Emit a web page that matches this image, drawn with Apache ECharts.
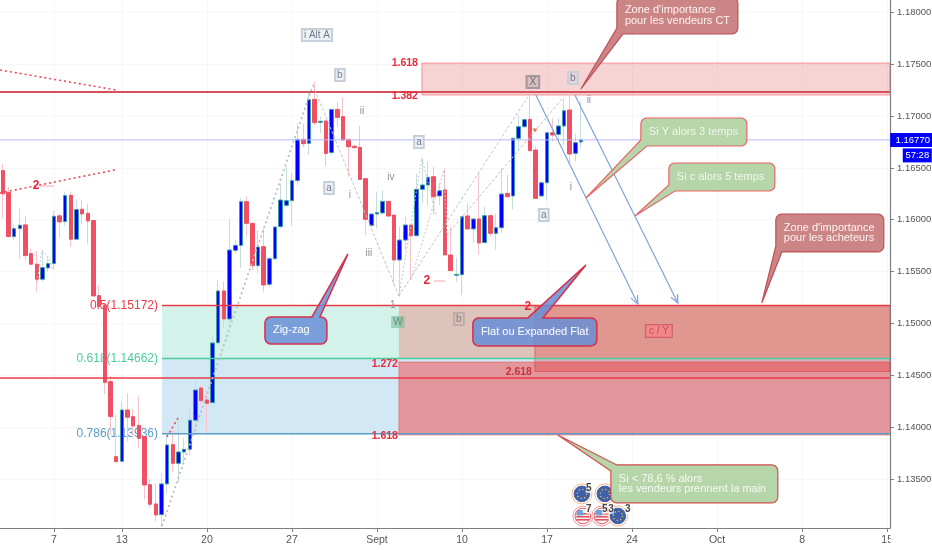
<!DOCTYPE html>
<html><head><meta charset="utf-8">
<style>html,body{margin:0;padding:0;background:#fff}#c{width:932px;height:550px}</style>
<script src="https://cdn.jsdelivr.net/npm/echarts@6/dist/echarts.min.js"></script>
</head><body><div id="c"></div>
<script>
const opens=[1.16474,1.16262,1.15837,1.15914,1.15950,1.15673,1.15571,1.15426,1.15535,1.15577,
1.16037,1.15982,1.16236,1.15812,1.16101,1.16062,1.15992,1.15268,1.15178,1.14438,
1.13715,1.13670,1.14165,1.14101,1.14017,1.13908,1.13445,1.13259,1.13156,1.13452,
1.13831,1.13651,1.13760,1.13786,1.14066,1.14377,1.14262,1.14236,1.14814,1.15313,
1.15043,1.15705,1.15753,1.16174,1.15965,1.15557,1.15740,1.15377,1.15624,1.15933,
1.16139,1.16184,1.16377,1.16775,1.16736,1.17161,1.16939,1.16952,1.16647,1.17064,
1.16994,1.16775,1.16708,1.16698,1.16396,1.15946,1.16055,1.16065,1.16177,1.16045,
1.15612,1.15804,1.15949,1.15846,1.16293,1.16335,1.16415,1.16229,1.16287,1.15660,
1.15464,1.15470,1.16036,1.15911,1.16007,1.15779,1.16039,1.15869,1.15923,1.16254,
1.16229,1.16785,1.16897,1.16968,1.16672,1.16229,1.16357,1.16839,1.16823,1.16904,
1.17058,1.16640,1.16750];
const closes=[1.16249,1.15837,1.15914,1.15947,1.15654,1.15571,1.15426,1.15538,1.15577,1.16033,
1.15979,1.16233,1.15812,1.16098,1.16056,1.15988,1.15265,1.15162,1.14432,1.14101,
1.13667,1.14165,1.14095,1.14011,1.13892,1.13442,1.13256,1.13153,1.13452,1.13828,
1.13651,1.13760,1.13786,1.14066,1.14358,1.14255,1.14229,1.14811,1.15313,1.15043,
1.15708,1.15753,1.16174,1.15965,1.15557,1.15737,1.15371,1.15624,1.15930,1.16190,
1.16184,1.16377,1.16775,1.16733,1.17158,1.16936,1.16949,1.16640,1.17064,1.16987,
1.16769,1.16704,1.16695,1.16389,1.16004,1.16055,1.16068,1.16177,1.16036,1.15612,
1.15804,1.15949,1.15846,1.16293,1.16335,1.16409,1.16222,1.16280,1.15660,1.15509,
1.15473,1.16029,1.15911,1.16007,1.15776,1.16039,1.15869,1.15923,1.16248,1.16222,
1.16785,1.16897,1.16965,1.16666,1.16206,1.16357,1.16839,1.16817,1.16904,1.17051,
1.16634,1.16743,1.16770];
const highs=[1.16538,1.16319,1.15950,1.16111,1.16037,1.15718,1.15699,1.15709,1.15638,1.16085,
1.16062,1.16271,1.16271,1.16197,1.16191,1.16152,1.15992,1.15371,1.15178,1.14493,
1.14117,1.14252,1.14326,1.14175,1.14294,1.13908,1.13500,1.13458,1.13555,1.13940,
1.13972,1.14085,1.13892,1.14191,1.14454,1.14403,1.14319,1.14872,1.15419,1.15403,
1.16007,1.15804,1.16206,1.16229,1.15965,1.15901,1.15917,1.15644,1.15933,1.16351,
1.16512,1.16447,1.16929,1.16929,1.17219,1.17331,1.16994,1.16961,1.17064,1.17138,
1.17180,1.16775,1.16720,1.16904,1.16399,1.16062,1.16270,1.16280,1.16177,1.16045,
1.15933,1.16029,1.15949,1.16447,1.16592,1.16560,1.16512,1.16351,1.16495,1.15933,
1.15637,1.16029,1.16158,1.16013,1.16447,1.16126,1.16039,1.16055,1.16495,1.16431,
1.16785,1.17010,1.16977,1.17203,1.16711,1.16367,1.16839,1.16978,1.16978,1.17170,
1.17235,1.16826,1.17138];
const lows=[1.16014,1.15831,1.15805,1.15619,1.15612,1.15564,1.15307,1.15403,1.15500,1.15516,
1.15828,1.15940,1.15735,1.15805,1.15959,1.15767,1.15259,1.15156,1.14319,1.13924,
1.13657,1.13667,1.13860,1.13908,1.13796,1.13304,1.13217,1.13089,1.13040,1.13362,
1.13571,1.13465,1.13651,1.13731,1.13924,1.14223,1.13956,1.14229,1.14800,1.14960,
1.14966,1.15676,1.15531,1.15837,1.15515,1.15483,1.15306,1.15354,1.15612,1.15917,
1.16126,1.15943,1.16335,1.16698,1.16624,1.16913,1.16833,1.16518,1.16624,1.16897,
1.16762,1.16415,1.16688,1.16383,1.15853,1.15933,1.15917,1.16055,1.16029,1.15371,
1.15258,1.15708,1.15419,1.15837,1.16158,1.16142,1.16055,1.16142,1.15660,1.15509,
1.15403,1.15274,1.15911,1.15779,1.15660,1.15772,1.15837,1.15708,1.15875,1.16222,
1.16100,1.16679,1.16881,1.16666,1.16206,1.16222,1.16184,1.16753,1.16736,1.16720,
1.16528,1.16560,1.16698];

const xTickSlots=[9,21,36,51,66,81,96,111,126,141,156];
const xTickLabels=['7','13','20','27','Sept','10','17','24','Oct','8','15'];
const yTicks=[1.135,1.14,1.145,1.15,1.155,1.16,1.165,1.17,1.175,1.18];
const slotCount=157, xStart=-0.5, xEnd=156.5, yMin=1.13027, yMax=1.18119;
const lastPrice=1.16770, countdown='57:28';
const categories=Array.from({length:slotCount},(_,i)=>String(i));

const zones=[
 [73.93,1.17511,156.46,1.17203,'band'],
 [28.07,1.15172,156.46,1.14662,'green'],
 [28.07,1.14662,156.46,1.13936,'blue'],
 [69.87,1.15172,156.46,1.14667,'extA'],
 [69.87,1.14628,156.46,1.13924,'extB'],
 [93.86,1.15172,156.46,1.14537,'extC']
];
const levelLabels=[
 [27.37,1.15172,'0.5(1.15172)','fibRed'],
 [27.37,1.14662,'0.618(1.14662)','fibGreen'],
 [27.37,1.13936,'0.786(1.13936)','fibBlue']
];
const levels=[
 [-0.5,156.46,1.17232,'topRed'],
 [-0.5,156.46,1.16770,'last'],
 [28.07,156.46,1.15172,'red'],
 [28.07,156.46,1.14662,'fibGreen'],
 [-0.5,156.46,1.14473,'red'],
 [28.07,156.46,1.13936,'fibBlue']
];
const trends=[
 ['redDot',-0.5,1.17444,19.96,1.17251],
 ['redDot',-0.5,1.16258,19.78,1.16480],
 ['redDot',28.95,1.13905,30.89,1.14088],
 ['grayDot',28.07,1.13047,54.70,1.17299],
 ['grayDash',54.70,1.17299,69.87,1.15265],
 ['grayDash',69.87,1.15265,92.62,1.17184],
 ['grayDot2',69.87,1.15265,73.93,1.16595,76.4,1.16046],
 ['grayDot2',72.0,1.15419,77.81,1.16480,78.34,1.15853],
 ['grayDash',78.34,1.15853,98.8,1.17174],
 ['grayDot2',6.03,1.15400,6.91,1.15708,7.97,1.15641,8.85,1.15515],
 ['palered',6.56,1.16325,9.03,1.16325],
 ['palered',76.04,1.15409,78.0,1.15409]
];
const arrows=[[94.03,1.17203,112.02,1.15188],[100.91,1.17203,119.08,1.15197]];
const tags=[
 [55.41,1.17782,'i Alt A','box'],[59.46,1.17396,'b','box'],[57.53,1.16306,'a','box'],
 [73.4,1.16750,'a','box'],[93.5,1.17328,'X','boxDark'],[100.56,1.17367,'b','box'],
 [95.44,1.16046,'a','box'],[69.69,1.15014,'W','boxGreen'],[80.45,1.15043,'b','boxBrown'],
 [115.73,1.14927,'c / Y','boxRed'],
 [63.35,1.17049,'ii','plain'],[61.23,1.16239,'i','plain'],[68.46,1.16412,'iv','plain'],
 [64.58,1.15679,'iii','plain'],[68.81,1.15178,'1','plain'],[103.38,1.17155,'ii','plain'],
 [100.2,1.16316,'i','plain'],
 [5.85,1.16325,'2','red'],[74.81,1.15409,'2','red'],[92.62,1.15158,'2','red']
];
const ratioLabels=[
 [73.22,1.17511,'1.618','ratio'],[73.22,1.17193,'1.382','ratio'],
 [69.7,1.14609,'1.272','ratio'],[69.7,1.13915,'1.618','ratio'],[93.33,1.14532,'2.618','ratioDark']
];
const callouts=[
 [108.32,1.18148,129.66,1.17791,101.97,1.17261,'bl',0,0,'rose',"Zone d'importance\npour les vendeurs CT"],
 [112.55,1.16981,131.25,1.16711,102.85,1.16210,'bl',0,0,'sage','Si Y alors 3 temps'],
 [117.49,1.16547,136.19,1.16277,111.49,1.16036,'bl',0,0,'sage','Si c alors 5 temps'],
 [136.36,1.16055,155.41,1.15689,133.89,1.15197,'bl',0,0,'rose',"Zone d'importance\npour les acheteurs"],
 [46.24,1.15062,57.17,1.14802,60.88,1.15670,'top',54.53,55.94,'sky','Zig-zag'],
 [82.92,1.15053,104.79,1.14783,102.85,1.15564,'top',92.62,95.27,'sky','Flat ou Expanded Flat'],
 [107.26,1.13635,136.71,1.13269,97.91,1.13924,'tl',0,0,'sage2',"Si < 78,6 % alors\nles vendeurs prennent la main"]
];
const icons=[[102.15,1.13356,'eu'],[106.2,1.13356,'eu'],[102.32,1.13143,'us'],[105.67,1.13143,'us'],[108.5,1.13143,'eu']];
const iconCounts=[[103.38,1.13413,'5'],[103.38,1.13211,'7'],[106.2,1.13211,'5'],[107.3,1.13211,'3'],[110.26,1.13211,'3']];
const signalMarks=[[93.86,1.16860]];

const FONT='"Liberation Sans",Arial,sans-serif';
const zoneStyle={
 band:{fill:'rgba(226,120,120,.32)',stroke:'rgba(240,120,120,.75)'},
 green:{fill:'#d3f3ea',stroke:null},
 blue:{fill:'#d3e8f5',stroke:null},
 extA:{fill:'rgba(250,86,77,.3)',stroke:null},
 extB:{fill:'rgba(243,66,67,.5)',stroke:'rgba(235,90,100,.6)'},
 extC:{fill:'rgba(227,20,16,.25)',stroke:'rgba(215,60,70,.55)'}
};
const levelStyle={
 topRed:{stroke:'#d4505a',lineWidth:2},last:{stroke:'#b7b7fb',lineWidth:1},
 red:{stroke:'#ea3a48',lineWidth:1.5},fibGreen:{stroke:'#4ccb9e',lineWidth:1.5},fibBlue:{stroke:'#5a9cc8',lineWidth:1.5}
};
const trendStyle={
 redDot:{stroke:'#ee4a5a',lineWidth:1.6,lineDash:[2,3]},
 grayDot:{stroke:'#bdbdbd',lineWidth:1.8,lineDash:[2,3]},
 grayDot2:{stroke:'#c6c6c6',lineWidth:1,lineDash:[2,2]},
 grayDash:{stroke:'#c2c2c2',lineWidth:1,lineDash:[3,2]},
 palered:{stroke:'#f6a8ae',lineWidth:1}
};
const textStyle={
 fibRed:{fill:'#ee3a4a',font:'12px '+FONT,a:'right'},
 fibGreen:{fill:'#4ccb9e',font:'12px '+FONT,a:'right'},
 fibBlue:{fill:'#5a9cc8',font:'12px '+FONT,a:'right'},
 ratio:{fill:'#ea2a3a',font:'bold 10.5px '+FONT,a:'right'},
 ratioDark:{fill:'#c8323e',font:'bold 10.5px '+FONT,a:'right'},
 red:{fill:'#ee2233',font:'bold 12px '+FONT,a:'center'},
 plain:{fill:'#8a8f98',font:'10px '+FONT,a:'center'},
 box:{fill:'#6f7d8e',font:'10px '+FONT,a:'center',backgroundColor:'rgba(205,214,228,.35)',borderColor:'#c6cdd8',borderWidth:1,padding:[1,2,1,2]},
 boxDark:{fill:'#6b6b70',font:'10px '+FONT,a:'center',backgroundColor:'rgba(150,140,150,.3)',borderColor:'#a89aa0',borderWidth:1,padding:[1,3,1,3]},
 boxGreen:{fill:'#6f8a80',font:'10px '+FONT,a:'center',backgroundColor:'rgba(110,190,150,.55)',padding:[1,2,1,2]},
 boxBrown:{fill:'#8d7a78',font:'10px '+FONT,a:'center',backgroundColor:'rgba(205,190,185,.4)',borderColor:'#c0a8a4',borderWidth:1,padding:[1,2,1,2]},
 boxRed:{fill:'#b8505c',font:'10px '+FONT,a:'center',backgroundColor:'rgba(250,130,135,.75)',borderColor:'#c9646e',borderWidth:1,padding:[1,3,1,3]}
};
const calloutStyle={
 rose:{fill:'#cc8585',stroke:'#bf4f58',text:'#fdf3f3'},
 sage:{fill:'#b6d5a8',stroke:'#ea6468',text:'#f1f7ec'},
 sage2:{fill:'#b6d5a8',stroke:'#cf4f52',text:'#f6faf2'},
 sky:{fill:'rgba(104,142,214,.85)',stroke:'#d6304a',text:'#ffffff'}
};

const mk=(arr,z,draw,extra)=>Object.assign({
 type:'custom',xAxisIndex:1,yAxisIndex:0,z,silent:true,animation:false,clip:false,
 data:arr.map(()=>[0,1.15]),encode:{x:0,y:1},
 renderItem:(params,api)=>draw(arr[params.dataIndex],api)
},extra||{});
const txt=(x,y,t,st)=>{
 const s={text:t,x,y,fill:st.fill,font:st.font,align:st.a,verticalAlign:'middle'};
 ['backgroundColor','borderColor','borderWidth','padding'].forEach(k=>{if(st[k]!=null)s[k]=st[k];});
 return {type:'text',style:s,z2:20};
};
function arc(cx,cy,r,a0,a1){const o=[];for(let k=0;k<=5;k++){const a=a0+(a1-a0)*k/5;o.push([cx+r*Math.cos(a),cy+r*Math.sin(a)]);}return o;}

function drawCallout(c,api){
 const [sl,pt,sr,pb,ts,tp,where,b0,b1,kind,label]=c;
 const lt=api.coord([sl,pt]),rb=api.coord([sr,pb]),tip=api.coord([ts,tp]);
 const l=lt[0],t=lt[1],r=rb[0],b=rb[1],R=6,P=Math.PI,pts=[];
 const TL=arc(l+R,t+R,R,P,1.5*P),TR=arc(r-R,t+R,R,1.5*P,2*P),BR=arc(r-R,b-R,R,0,.5*P),BL=arc(l+R,b-R,R,.5*P,P);
 if(where==='top'){
  const x0=api.coord([b0,pt])[0],x1=api.coord([b1,pt])[0];
  pts.push(...TL,[x0,t],tip,[x1,t],...TR,...BR,...BL);
 }else if(where==='bl'){
  pts.push(...TL,...TR,...BR,[l+R,b],tip,[l,b-R]);
 }else{
  pts.push([l,t+R],tip,[l+R,t],...TR,...BR,...BL);
 }
 const st=calloutStyle[kind];
 return {type:'group',children:[
  {type:'polygon',shape:{points:pts},style:{fill:st.fill,stroke:st.stroke,lineWidth:kind==='sky'?1.5:1.2}},
  {type:'text',style:{text:label,x:l+8,y:(t+b)/2,fill:st.text,font:'11px '+FONT,align:'left',verticalAlign:'middle',lineHeight:10.5},z2:5}
 ]};
}
function drawIcon(c,api){
 const [s,p,flag]=c,q=api.coord([s,p]),cx=q[0],cy=q[1],kids=[];
 kids.push({type:'circle',shape:{cx,cy,r:10},style:{fill:'#fff',stroke:flag==='eu'?'#f7b98a':'#f59aa2',lineWidth:1}});
 kids.push({type:'circle',shape:{cx,cy,r:7.8},style:{fill:flag==='eu'?'#3f5fa8':'#f4f4f4',stroke:flag==='eu'?'#3f5fa8':'#ef5a64',lineWidth:1}});
 if(flag==='eu'){
  kids.push({type:'circle',shape:{cx,cy,r:4.6},style:{fill:null,stroke:'#e8c85a',lineWidth:1.3,lineDash:[1.2,2.4]}});
 }else{
  [-3,0,3].forEach(d=>kids.push({type:'rect',shape:{x:cx-6.5,y:cy+d,width:13,height:1.6},style:{fill:'#e8515c'}}));
  kids.push({type:'rect',shape:{x:cx-6,y:cy-6,width:6,height:5.5},style:{fill:'#6aa3d8'}});
 }
 return {type:'group',children:kids};
}

const option={
 animation:false,backgroundColor:'#fff',
 grid:{left:0,right:42,top:0,bottom:22,containLabel:false,outerBoundsMode:'none'},
 xAxis:[
  {type:'category',data:categories,show:false,boundaryGap:true,gridIndex:0},
  {type:'value',min:xStart,max:xEnd,position:'bottom',gridIndex:0,
   axisLine:{show:true,onZero:false,lineStyle:{color:'#7d7f86',width:1.2}},
   axisTick:{show:true,length:4,customValues:xTickSlots,lineStyle:{color:'#7d7f86'}},
   axisLabel:{show:true,customValues:xTickSlots,formatter:v=>xTickLabels[xTickSlots.indexOf(v)]||'',
     color:'#555',fontFamily:FONT,fontSize:10.5,margin:7,showMinLabel:true,showMaxLabel:true,hideOverlap:false},
   splitLine:{show:true,lineStyle:{color:'#f7f7f7',width:1}}}
 ],
 yAxis:{type:'value',min:yMin,max:yMax,position:'right',
   axisLine:{show:true,onZero:false,lineStyle:{color:'#7d7f86',width:1.2}},
   axisTick:{show:true,length:4,customValues:yTicks,lineStyle:{color:'#7d7f86'}},
   axisLabel:{customValues:yTicks,formatter:v=>v.toFixed(5),color:'#555',fontFamily:FONT,fontSize:9.5,margin:7,showMinLabel:true,showMaxLabel:true},
   splitLine:{show:true,lineStyle:{color:'#f7f7f7',width:1}}},
 series:[
  mk(zones,1,(c,api)=>{
    const a=api.coord([c[0],c[1]]),b=api.coord([c[2],c[3]]),st=zoneStyle[c[4]];
    return {type:'rect',shape:{x:a[0],y:a[1],width:b[0]-a[0],height:b[1]-a[1]},style:{fill:st.fill,stroke:st.stroke,lineWidth:1}};
  }),
  mk(levelLabels,2,(c,api)=>{const q=api.coord([c[0],c[1]]);return txt(q[0],q[1],c[2],textStyle[c[3]]);}),
  {type:'candlestick',name:'wicks',xAxisIndex:0,yAxisIndex:0,z:3,barWidth:1,silent:true,animation:false,
   data:opens.map((o,i)=>[o,closes[i],lows[i],highs[i]]),
   itemStyle:{color:'#c6dcdf',color0:'#f8c4c9',borderColor:'#c6dcdf',borderColor0:'#f8c4c9',borderColorDoji:'#c6dcdf',borderWidth:1}},
  {type:'candlestick',name:'bodies',xAxisIndex:0,yAxisIndex:0,z:4,barWidth:4,silent:true,animation:false,
   data:opens.map((o,i)=>[o,closes[i],Math.min(o,closes[i]),Math.max(o,closes[i])]),
   itemStyle:{color:'#0000ff',color0:'#ef5064',borderColor:'#3f9fa0',borderColor0:'#ef5064',borderColorDoji:'#5fbd97',borderWidth:1}},
  mk(levels,5,(c,api)=>{
    const a=api.coord([c[0],c[2]]),b=api.coord([c[1],c[2]]);
    return {type:'line',shape:{x1:a[0],y1:a[1],x2:b[0],y2:b[1]},style:Object.assign({fill:null},levelStyle[c[3]])};
  }),
  mk(trends,6,(c,api)=>{
    const pts=[];for(let k=1;k<c.length;k+=2)pts.push(api.coord([c[k],c[k+1]]));
    return {type:'polyline',shape:{points:pts},style:Object.assign({fill:null},trendStyle[c[0]])};
  }),
  mk(arrows,6,(c,api)=>{
    const a=api.coord([c[0],c[1]]),b=api.coord([c[2],c[3]]),ang=Math.atan2(b[1]-a[1],b[0]-a[0]),L=9,W=.42;
    const st={stroke:'#7fa3d9',lineWidth:1.2,fill:null};
    return {type:'group',children:[
      {type:'line',shape:{x1:a[0],y1:a[1],x2:b[0],y2:b[1]},style:st},
      {type:'polyline',shape:{points:[[b[0]-L*Math.cos(ang-W),b[1]-L*Math.sin(ang-W)],b,[b[0]-L*Math.cos(ang+W),b[1]-L*Math.sin(ang+W)]]},style:st}
    ]};
  }),
  mk(signalMarks,6,(c,api)=>{const q=api.coord(c);
    return {type:'polygon',shape:{points:[[q[0]-2.5,q[1]-2],[q[0]+2.5,q[1]-2],[q[0],q[1]+2]]},style:{fill:'#f0744e'}};}),
  mk(ratioLabels,7,(c,api)=>{const q=api.coord([c[0],c[1]]);return txt(q[0],q[1],c[2],textStyle[c[3]]);}),
  mk(tags,7,(c,api)=>{const q=api.coord([c[0],c[1]]);return txt(q[0],q[1],c[2],textStyle[c[3]]);}),
  mk(icons,8,drawIcon),
  mk(iconCounts,8,(c,api)=>{const q=api.coord([c[0],c[1]]);
    return {type:'text',style:{text:c[2],x:q[0],y:q[1],fill:'#444',font:'bold 10px '+FONT,align:'center',verticalAlign:'middle',backgroundColor:'rgba(255,255,255,.7)'},z2:10};}),
  mk(callouts,9,drawCallout),
  mk([[xEnd,lastPrice]],10,(c,api)=>{
    const q=api.coord([156.46,c[1]]),x=q[0],y=q[1];
    return {type:'group',children:[
      {type:'rect',shape:{x:x+.5,y:y-7,width:42,height:14},style:{fill:'#0000ff'}},
      {type:'text',style:{text:c[1].toFixed(5),x:x+23,y:y,fill:'#fff',font:'9.5px '+FONT,align:'center',verticalAlign:'middle'},z2:3},
      {type:'rect',shape:{x:x+13,y:y+8.5,width:29,height:14},style:{fill:'#0000ff'}},
      {type:'text',style:{text:countdown,x:x+27.5,y:y+15.5,fill:'#fff',font:'9.5px '+FONT,align:'center',verticalAlign:'middle'},z2:3}
    ]};
  })
 ],
 graphic:[{type:'rect',left:890.6,top:530,shape:{width:42,height:20},style:{fill:'#fff'},z:100}]
};
const chart=echarts.init(document.getElementById('c'),null,{renderer:'canvas',width:932,height:550});
chart.setOption(option);
</script></body></html>
